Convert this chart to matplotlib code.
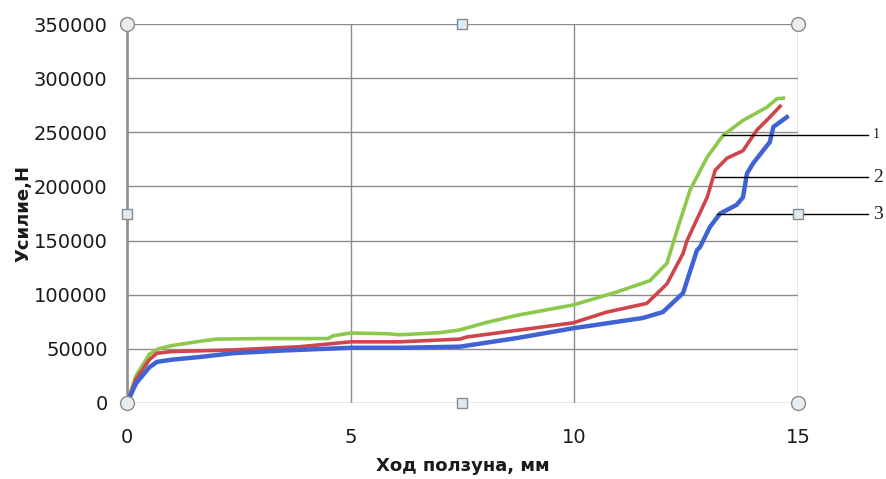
import matplotlib

matplotlib.use("Agg")
import matplotlib.pyplot as plt

GRID = "#8c8c8c"
INK = "#1a1a1a"

# stroke (mm) vs force (N)
x_green = [0, 0.2, 0.5, 0.7, 1.0, 1.63, 2.0, 3.0, 4.5, 4.6, 5.0, 5.8, 6.1, 7.0, 7.44, 8.0, 8.72,
           9.97, 10.95, 11.69, 12.07, 12.3, 12.59, 12.97, 13.32, 13.77, 14.3, 14.53, 14.67]
y_green = [0, 25000, 45000, 50000, 53000, 57000, 59000, 59500, 59500, 62000, 64600, 64000, 63000,
           65000, 67500, 74000, 81000, 90500, 102500, 113000, 129000, 160000, 197000, 227000,
           247000, 261000, 273000, 281000, 281500]

x_red = [0, 0.2, 0.5, 0.67, 1.0, 2.37, 3.87, 5.0, 6.1, 7.44, 7.6, 8.7, 9.97, 10.73, 11.62, 12.07,
         12.43, 12.52, 12.97, 13.15, 13.41, 13.77, 14.08, 14.37, 14.6]
y_red = [0, 22000, 40000, 46000, 47500, 49000, 52000, 56500, 56500, 59000, 61000, 67000, 74000,
         84000, 92000, 110000, 138000, 150000, 190000, 215000, 226000, 233000, 252000, 264000, 274000]

x_blue = [0, 0.2, 0.5, 0.67, 1.0, 1.63, 2.37, 3.5, 5.0, 6.1, 7.44, 8.72, 9.97, 11.53, 11.98, 12.43,
          12.74, 12.81, 13.03, 13.26, 13.63, 13.77, 13.86, 14.0, 14.37, 14.45, 14.75]
y_blue = [0, 18000, 33000, 38000, 40000, 42500, 46000, 48500, 51000, 51000, 52000, 60000, 69000,
          78500, 84000, 101500, 141000, 144000, 162500, 175000, 183000, 190000, 212000, 221500,
          241000, 255000, 264000]

# curve labels: (start x, y, label)
callouts = [(13.32, 247500, "1"), (13.15, 208700, "2"), (13.2, 174500, "3")]

fig = plt.figure(figsize=(8.87, 4.79), dpi=100, facecolor="white")
ax = fig.add_axes([127 / 887, 1 - 403 / 479, 671 / 887, 379 / 479])

ax.plot(x_green, y_green, color="#8cc84b", linewidth=2.6, solid_joinstyle="round", zorder=3)
ax.plot(x_red, y_red, color="#d0454c", linewidth=2.6, solid_joinstyle="round", zorder=3)
ax.plot(x_blue, y_blue, color="#3f63d3", linewidth=3.2, solid_joinstyle="round", zorder=3)

ax.set_xlim(0, 15)
ax.set_ylim(0, 350000)
ax.set_xticks([0, 5, 10, 15])
ax.set_yticks(range(0, 350001, 50000))
ax.grid(color=GRID, linewidth=1.0, zorder=0)
for s in ("top", "right", "bottom"):
    ax.spines[s].set_visible(False)
ax.spines["left"].set_color(GRID)
ax.spines["left"].set_linewidth(1.8)
ax.tick_params(length=0, labelsize=14, colors=INK)
ax.tick_params(axis="y", pad=14)
ax.tick_params(axis="x", pad=18)

ax.set_xlabel("Ход ползуна, мм", fontsize=13, fontweight="bold", color=INK, labelpad=7)
ax.set_ylabel("Усилие,Н", fontsize=13, fontweight="bold", color=INK, labelpad=1)

x_end = 16.57
for xs, ys, lab in callouts:
    ax.plot([xs, x_end], [ys, ys], color="black", linewidth=1.0, clip_on=False, zorder=4)
    ax.text(x_end + 0.1, ys, lab, fontsize=14 if lab != "1" else 10, family="Liberation Serif",
            va="center", ha="left", color=INK, clip_on=False)

# chart selection handles
for hx, hy in [(0, 0), (0, 1), (1, 0), (1, 1)]:
    ax.plot(hx, hy, marker="o", markersize=10, markerfacecolor="#e8edf2", markeredgecolor="#8a8a8a",
            markeredgewidth=1.0, transform=ax.transAxes, clip_on=False, zorder=6)
for hx, hy in [(0.5, 0), (0.5, 1), (0, 0.5), (1, 0.5)]:
    ax.plot(hx, hy, marker="s", markersize=7, markerfacecolor="#dcecf7", markeredgecolor="#8a8a8a",
            markeredgewidth=1.0, transform=ax.transAxes, clip_on=False, zorder=6)

fig.savefig("out.png", dpi=100, facecolor="white")
